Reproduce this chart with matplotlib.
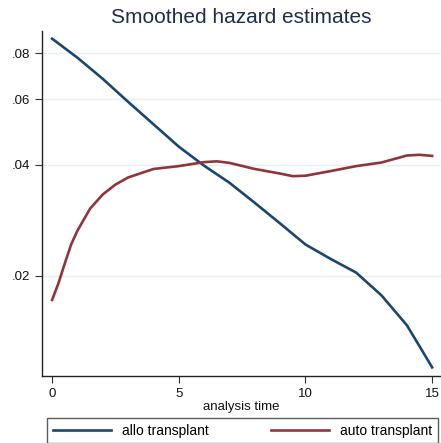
import numpy as np
import matplotlib
matplotlib.use('Agg')
import matplotlib.pyplot as plt
from matplotlib.ticker import FixedLocator, NullLocator

# smoothed hazard values
t_allo = [0, 1, 2, 3, 4, 5, 6, 7, 8, 9, 10, 11, 12, 13, 14, 14.5, 15]
h_allo = [0.0876, 0.0778, 0.0682, 0.0591, 0.0514, 0.0447, 0.0397, 0.0357,
          0.0315, 0.0277, 0.0243, 0.0222, 0.0204, 0.0177, 0.0147, 0.0129, 0.0113]

t_auto = [0, 0.25, 0.5, 0.75, 1, 1.5, 2, 2.5, 3, 4, 5, 6, 6.5, 7, 8, 9, 9.5,
          10, 11, 12, 13, 14, 14.5, 15]
h_auto = [0.0172, 0.0191, 0.0216, 0.0243, 0.0265, 0.0304, 0.0332, 0.0353,
          0.0369, 0.0389, 0.0396, 0.0406, 0.0408, 0.0404, 0.0389, 0.0378,
          0.0372, 0.0373, 0.0384, 0.0396, 0.0405, 0.0423, 0.0425, 0.0422]

yticks = [0.02, 0.04, 0.06, 0.08]
ytick_labels = ['.02', '.04', '.06', '.08']
xticks = [0, 5, 10, 15]

plt.rcParams['font.family'] = ['Liberation Sans', 'DejaVu Sans']

fig = plt.figure(figsize=(4.41, 4.43), dpi=100)
ax = fig.add_axes([42/441, 67/443, 399/441, 345/443])

ax.plot(t_allo, h_allo, color='#1a476f', lw=1.9, label='allo transplant')
ax.plot(t_auto, h_auto, color='#90353b', lw=1.9, label='auto transplant')

ax.set_yscale('log')
ax.set_ylim(0.01071, 0.0919)
ax.set_xlim(-0.4, 15.35)
ax.yaxis.set_major_locator(FixedLocator(yticks))
ax.yaxis.set_minor_locator(NullLocator())
ax.set_yticklabels(ytick_labels)
ax.set_xticks(xticks)
ax.set_xticklabels([str(v) for v in xticks])
ax.tick_params(labelsize=9.5, length=5, color='#333333', labelcolor='#111111')
ax.grid(axis='y', color='#e6eff0', lw=1)
ax.set_axisbelow(True)

for s in ['top', 'right']:
    ax.spines[s].set_visible(False)
for s in ['left', 'bottom']:
    ax.spines[s].set_color('#222222')
    ax.spines[s].set_linewidth(1)

ax.set_xlabel('analysis time', fontsize=9.5, labelpad=1, color='#111111')
fig.text(0.547, 0.96, 'Smoothed hazard estimates', ha='center', va='center',
         fontsize=15, color='#1e2d50')

leg = fig.legend(loc='upper left', bbox_to_anchor=(47/441, -0.03, 391/441, 25/443 + 0.03),
                 mode='expand', ncol=2, fontsize=10, frameon=True, fancybox=False,
                 handlelength=4.2, handletextpad=0.8, borderaxespad=0)
leg.get_frame().set_edgecolor('#333333')
leg.get_frame().set_linewidth(1)

plt.savefig('out.png', dpi=100)
